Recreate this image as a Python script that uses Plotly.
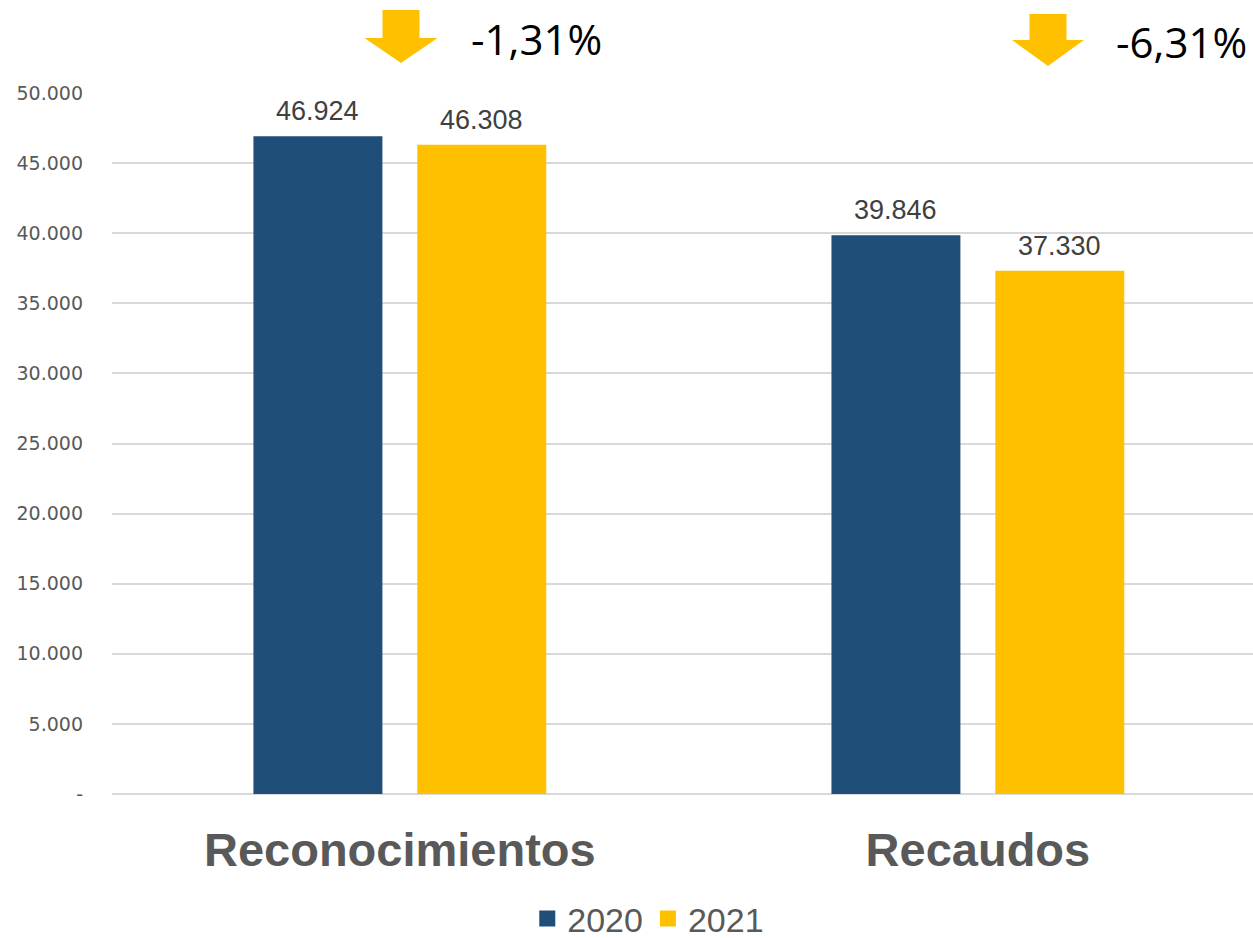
import plotly.graph_objects as go

# Data
categories = ["Reconocimientos", "Recaudos"]
years = ["2020", "2021"]
values_2020 = [46924, 39846]
values_2021 = [46308, 37330]
changes = ["-1,31%", "-6,31%"]
tick_vals = [0, 5000, 10000, 15000, 20000, 25000, 30000, 35000, 40000, 45000, 50000]
tick_text = ["-", "5.000", "10.000", "15.000", "20.000", "25.000", "30.000",
             "35.000", "40.000", "45.000", "50.000"]

colors = {"2020": "#1F4E79", "2021": "#FFC000"}

W, H = 1253, 938
ML, MR, MT, MB = 112, 0, 93, 144
PW, PH = W - ML - MR, H - MT - MB
BARGAP, GROUPGAP = 0.433, 0.213


def fmt(v):
    return f"{v:,}".replace(",", ".")


def px(x):
    return (x - ML) / PW


def py(y):
    return 1 + (MT - y) / PH


fig = go.Figure()
series = [values_2020, values_2021]
for yr, vals in zip(years, series):
    fig.add_trace(go.Bar(
        x=list(range(len(categories))), y=vals, name=yr, showlegend=False,
        marker=dict(color=colors[yr], line=dict(width=0)),
    ))
# Legend entries with square swatches
for yr in years:
    fig.add_trace(go.Scatter(
        x=[None], y=[None], mode="markers", name=yr,
        marker=dict(symbol="square", size=18, color=colors[yr]),
    ))

annotations = []
# Value labels above each bar (centre of each grouped slot)
slot = (1 - BARGAP) / len(years)
for i, vals in enumerate(series):
    off = -(1 - BARGAP) / 2 + slot * (i + 0.5)
    for j, v in enumerate(vals):
        annotations.append(dict(
            x=j + off, y=v, xref="x", yref="y", text=fmt(v), showarrow=False,
            yanchor="bottom", yshift=8,
            font=dict(size=27, color="#404040", family="Liberation Sans, Arial"),
        ))

# Down arrows and change labels above each group
arrows = [
    dict(cx=401, top=10, neck=38, tip=63, shaft=18.5, head=36.5),
    dict(cx=1048, top=14, neck=40, tip=66, shaft=18.5, head=36),
]
label_pos = [(469, 38), (1114, 42)]
shapes = []
for a, txt, (lx, ly) in zip(arrows, changes, label_pos):
    pts = [
        (a["cx"] - a["shaft"], a["top"]), (a["cx"] + a["shaft"], a["top"]),
        (a["cx"] + a["shaft"], a["neck"]), (a["cx"] + a["head"], a["neck"]),
        (a["cx"], a["tip"]), (a["cx"] - a["head"], a["neck"]),
        (a["cx"] - a["shaft"], a["neck"]),
    ]
    path = "M " + " L ".join(f"{px(x):.5f},{py(y):.5f}" for x, y in pts) + " Z"
    shapes.append(dict(type="path", xref="paper", yref="paper", path=path,
                       fillcolor="#FFC000", line=dict(width=0), layer="above"))
    annotations.append(dict(xref="paper", yref="paper", x=px(lx), y=py(ly),
                            xanchor="left", yanchor="middle", text=txt,
                            showarrow=False,
                            font=dict(size=42, color="#000000",
                                      family="Open Sans, Liberation Sans")))

fig.update_layout(
    width=W, height=H,
    margin=dict(l=ML, r=MR, t=MT, b=MB, pad=0, autoexpand=False),
    paper_bgcolor="white", plot_bgcolor="white",
    barmode="group", bargap=BARGAP, bargroupgap=GROUPGAP,
    shapes=shapes, annotations=annotations,
    xaxis=dict(
        tickmode="array", tickvals=list(range(len(categories))),
        ticktext=[f"<b>{c}</b>" for c in categories], range=[-0.498, 1.476],
        tickfont=dict(size=47, color="#595959", family="Liberation Sans, Arial"),
        showgrid=False, zeroline=False, showline=False, ticks="",
        ticklabelstandoff=24,
    ),
    yaxis=dict(
        range=[0, 50000], tickmode="array", tickvals=tick_vals, ticktext=tick_text,
        tickfont=dict(size=19, color="#595959", family="DejaVu Sans"),
        showgrid=True, gridcolor="#D9D9D9", gridwidth=1.5,
        zeroline=True, zerolinecolor="#D9D9D9", zerolinewidth=2,
        showline=False, ticks="", ticklabelstandoff=28,
    ),
    legend=dict(
        orientation="h", x=0.47, xanchor="center", y=py(948), yanchor="bottom",
        font=dict(size=34, color="#595959", family="Liberation Sans, Arial"),
        itemsizing="trace", traceorder="normal", itemwidth=30,
        tracegroupgap=0,
    ),
    showlegend=True,
)

fig.write_html("out.html")
